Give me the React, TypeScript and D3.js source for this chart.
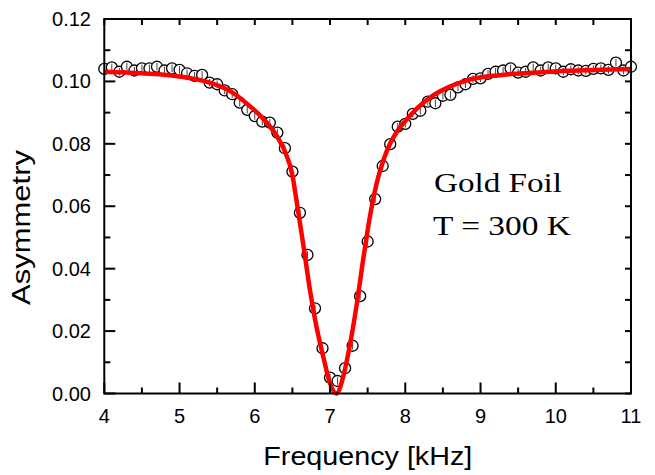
import React from 'react';
import * as d3 from 'd3';

// measured points (kHz, asymmetry)
const freq = [
  4.0, 4.1, 4.2, 4.3, 4.4, 4.5, 4.6, 4.7, 4.8, 4.9,
  5.0, 5.1, 5.2, 5.3, 5.4, 5.5, 5.6, 5.7, 5.8, 5.9,
  6.0, 6.1, 6.2, 6.3, 6.4, 6.5, 6.6, 6.7, 6.8, 6.9,
  7.0, 7.1, 7.2, 7.3, 7.4, 7.5, 7.6, 7.7, 7.8, 7.9,
  8.0, 8.1, 8.2, 8.3, 8.4, 8.5, 8.6, 8.7, 8.8, 8.9,
  9.0, 9.1, 9.2, 9.3, 9.4, 9.5, 9.6, 9.7, 9.8, 9.9,
  10.0, 10.1, 10.2, 10.3, 10.4, 10.5, 10.6, 10.7, 10.8, 10.9,
  11.0,
];
const asym = [
  0.1040, 0.1045, 0.1031, 0.1047, 0.1035, 0.1042, 0.1042, 0.1047, 0.1035, 0.1042,
  0.1037, 0.1026, 0.1018, 0.1021, 0.0996, 0.0991, 0.0971, 0.0959, 0.0932, 0.0909,
  0.0889, 0.0871, 0.0868, 0.0836, 0.0786, 0.0711, 0.0579, 0.0444, 0.0273, 0.0145,
  0.0051, 0.0040, 0.0081, 0.0153, 0.0312, 0.0487, 0.0623, 0.0729, 0.0799, 0.0855,
  0.0864, 0.0896, 0.0906, 0.0935, 0.0930, 0.0954, 0.0957, 0.0981, 0.0991, 0.1008,
  0.1010, 0.1024, 0.1031, 0.1035, 0.1042, 0.1028, 0.1031, 0.1045, 0.1035, 0.1045,
  0.1042, 0.1031, 0.1039, 0.1035, 0.1034, 0.1040, 0.1042, 0.1037, 0.1060, 0.1035,
  0.1047,
];
const asymErr = 0.0012;

// fitted curve
const fitFreq = [
  4.0, 4.5, 5.0, 5.4, 5.7, 5.9, 6.1, 6.3, 6.4, 6.5,
  6.55, 6.65, 6.73, 6.82, 6.91, 7.0, 7.085, 7.175, 7.26, 7.35,
  7.44, 7.53, 7.62, 7.71, 7.8, 7.9, 8.0, 8.15, 8.37, 8.6,
  8.8, 9.25, 9.7, 10.15, 11.0,
];
const fitAsym = [
  0.1031, 0.1026, 0.1016, 0.0996, 0.0965, 0.0928, 0.0884, 0.0822, 0.0776, 0.0700,
  0.0625, 0.0468, 0.0337, 0.0214, 0.0118, 0.0033, 0.0, 0.0054, 0.0150, 0.0278,
  0.0428, 0.0567, 0.0674, 0.0748, 0.0802, 0.0843, 0.0873, 0.0912, 0.0955, 0.0984,
  0.1002, 0.1020, 0.1028, 0.1034, 0.1040,
];

const xMajor = [4, 5, 6, 7, 8, 9, 10, 11];
const xMinor = [4.5, 5.5, 6.5, 7.5, 8.5, 9.5, 10.5];
const yMajor = [0, 0.02, 0.04, 0.06, 0.08, 0.1, 0.12];
const yMinor = [0.01, 0.03, 0.05, 0.07, 0.09, 0.11];

const W = 655;
const H = 475;
const L = 104.3, R = 631, T = 19, B = 393.5;

export default function App() {
  const x = d3.scaleLinear().domain([4, 11]).range([L, R]);
  const y = d3.scaleLinear().domain([0, 0.12]).range([B, T]);

  const fit = d3.line<number>()
    .x((_, i) => x(fitFreq[i]))
    .y(d => y(d))
    .curve(d3.curveMonotoneX)(fitAsym) || '';

  const sans = "'Liberation Sans', Arial, Helvetica, sans-serif";
  const serif = "'Liberation Serif', 'Times New Roman', serif";

  return (
    <svg width={W} height={H} style={{ position: 'absolute', left: 0, top: 0, background: '#fff' }}>
      {/* data points */}
      <g>
        {asym.map((a, i) => (
          <g key={i}>
            <circle cx={x(freq[i])} cy={y(a)} r={5.5} fill="#fff" stroke="#000" strokeWidth={1.3} />
            <line x1={x(freq[i])} x2={x(freq[i])} y1={y(a - asymErr)} y2={y(a + asymErr)}
              stroke="#444" strokeWidth={1} />
          </g>
        ))}
      </g>

      {/* fit */}
      <path d={fit} fill="none" stroke="#ff0000" strokeWidth={4.5} strokeLinejoin="round" />

      {/* frame */}
      <rect x={L} y={T} width={R - L} height={B - T} fill="none" stroke="#000" strokeWidth={2} />

      {/* ticks */}
      <g stroke="#000" strokeWidth={2}>
        {xMajor.map(v => (
          <g key={'xm' + v}>
            <line x1={x(v)} x2={x(v)} y1={B} y2={B - 11} />
            <line x1={x(v)} x2={x(v)} y1={T} y2={T + 6} />
          </g>
        ))}
        {xMinor.map(v => (
          <g key={'xn' + v}>
            <line x1={x(v)} x2={x(v)} y1={B} y2={B - 6} />
            <line x1={x(v)} x2={x(v)} y1={T} y2={T + 6} />
          </g>
        ))}
        {yMajor.map(v => (
          <g key={'ym' + v}>
            <line x1={L} x2={L + 11} y1={y(v)} y2={y(v)} />
            <line x1={R} x2={R - 6} y1={y(v)} y2={y(v)} />
          </g>
        ))}
        {yMinor.map(v => (
          <g key={'yn' + v}>
            <line x1={L} x2={L + 6} y1={y(v)} y2={y(v)} />
            <line x1={R} x2={R - 6} y1={y(v)} y2={y(v)} />
          </g>
        ))}
      </g>

      {/* tick labels */}
      <g fontFamily={sans} fontSize={20} fill="#000">
        {xMajor.map(v => (
          <text key={'xl' + v} x={x(v)} y={423} textAnchor="middle">{v}</text>
        ))}
        {yMajor.map(v => (
          <text key={'yl' + v} x={91} y={y(v) + 7} textAnchor="end">{v.toFixed(2)}</text>
        ))}
      </g>

      {/* axis titles */}
      <text x={263.3} y={465} fontFamily={sans} fontSize={25.5} textLength={209}
        lengthAdjust="spacingAndGlyphs">Frequency [kHz]</text>
      <text transform="translate(30,305) rotate(-90)" fontFamily={sans} fontSize={25.5}
        textLength={155} lengthAdjust="spacingAndGlyphs">Asymmetry</text>

      {/* annotation */}
      <text x={434} y={192} fontFamily={serif} fontSize={28} textLength={128}
        lengthAdjust="spacingAndGlyphs">Gold Foil</text>
      <text x={433} y={235} fontFamily={serif} fontSize={28} textLength={138}
        lengthAdjust="spacingAndGlyphs">T = 300 K</text>
    </svg>
  );
}
